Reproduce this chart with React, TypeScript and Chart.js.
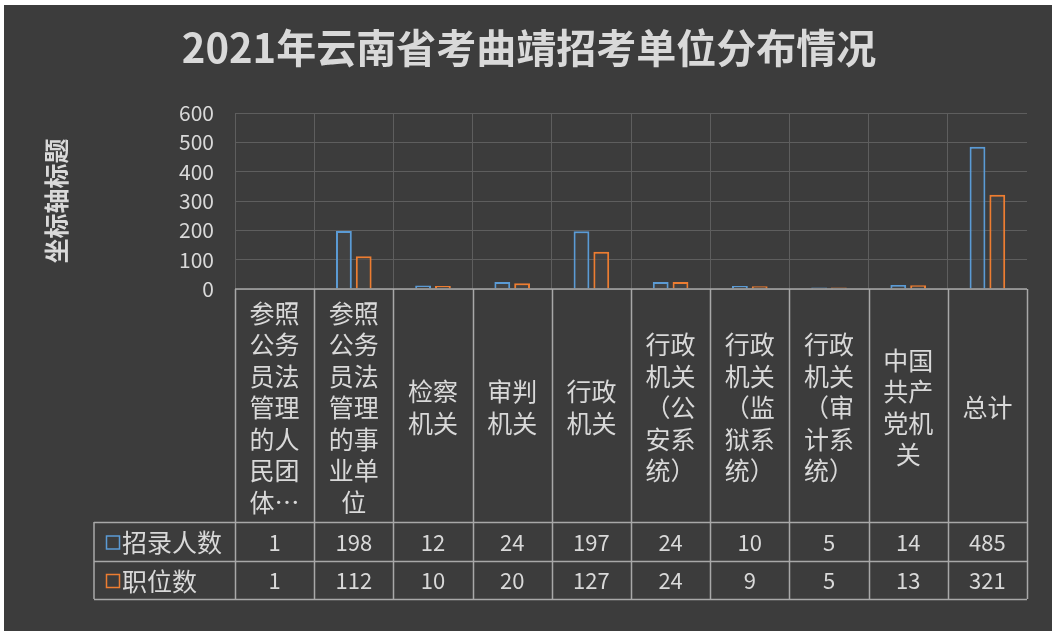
import { useEffect, useRef } from 'react';
import { Chart, registerables } from 'chart.js';

Chart.register(...registerables);

const TITLE = '2021年云南省考曲靖招考单位分布情况';
const Y_AXIS_TITLE = '坐标轴标题';
const categories = [
  '参照公务员法管理的人民团体和群众团体',
  '参照公务员法管理的事业单位',
  '检察机关',
  '审判机关',
  '行政机关',
  '行政机关（公安系统）',
  '行政机关（监狱系统）',
  '行政机关（审计系统）',
  '中国共产党机关',
  '总计',
];
const seriesNames = ['招录人数', '职位数'];
const recruits = [1, 198, 12, 24, 197, 24, 10, 5, 14, 485];
const positions = [1, 112, 10, 20, 127, 24, 9, 5, 13, 321];
const yMin = 0;
const yMax = 600;
const yStep = 100;

const BG = '#3c3c3c';
const TEXT = '#d9d9d9';
const GRID = '#5e5e5e';
const TABLE_LINE = '#a8a8a8';
const BLUE = '#5b9bd5';
const ORANGE = '#ed7d31';
const CJK = '"Noto Sans CJK SC", "Noto Sans", sans-serif';

function wrapLabel(s: string): string[] {
  const chars = Array.from(s);
  const lines: string[] = [];
  for (let i = 0; i < chars.length; i += 2) lines.push(chars.slice(i, i + 2).join(''));
  if (lines.length > 7) {
    const kept = lines.slice(0, 7);
    kept[6] = Array.from(kept[6])[0] + '…';
    return kept;
  }
  return lines;
}

const decorPlugin = {
  id: 'decor',
  beforeDraw(chart: any) {
    const { ctx, width, height } = chart;
    ctx.save();
    ctx.fillStyle = '#ffffff';
    ctx.fillRect(0, 0, width, height);
    ctx.fillStyle = BG;
    ctx.fillRect(4, 5, width - 4, height - 5);
    ctx.restore();
  },
  afterDraw(chart: any) {
    const { ctx, chartArea } = chart;
    const xs = chart.scales.x;
    const n = categories.length;
    const colW = (chartArea.right - chartArea.left) / n;
    const top = chartArea.bottom;
    const labelBottom = 522;
    const row1Bottom = 561;
    const row2Bottom = 599;
    const legendLeft = 94;
    ctx.save();
    // title
    ctx.fillStyle = TEXT;
    ctx.textAlign = 'center';
    ctx.textBaseline = 'middle';
    ctx.font = `bold 40px ${CJK}`;
    ctx.fillText(TITLE, 529, 48);
    // y axis title
    ctx.save();
    ctx.translate(56, 201);
    ctx.rotate(-Math.PI / 2);
    ctx.font = `bold 25px ${CJK}`;
    ctx.fillText(Y_AXIS_TITLE, 0, 0);
    ctx.restore();

    // table lines
    ctx.strokeStyle = TABLE_LINE;
    ctx.lineWidth = 1.5;
    ctx.beginPath();
    for (let i = 0; i <= n; i++) {
      const x = Math.round(chartArea.left + i * colW) + 0.5;
      ctx.moveTo(x, top);
      ctx.lineTo(x, row2Bottom);
    }
    ctx.moveTo(legendLeft, labelBottom);
    ctx.lineTo(legendLeft, row2Bottom);
    ctx.moveTo(chartArea.left, top);
    ctx.lineTo(chartArea.right, top);
    [labelBottom, row1Bottom, row2Bottom].forEach((y) => {
      ctx.moveTo(legendLeft, y + 0.5);
      ctx.lineTo(chartArea.right, y + 0.5);
    });
    ctx.stroke();

    // category labels
    ctx.fillStyle = TEXT;
    ctx.font = `25px ${CJK}`;
    const lh = 31.5;
    const midY = (top + labelBottom) / 2 + 2;
    categories.forEach((c, i) => {
      const cx = xs.getPixelForValue(i);
      const lines = wrapLabel(c);
      const startY = midY - ((lines.length - 1) * lh) / 2;
      lines.forEach((ln, k) => {
        ctx.fillText(ln, cx, startY + k * lh);
      });
    });

    // data rows
    const rows = [recruits, positions];
    const colors = [BLUE, ORANGE];
    const rowMids = [(labelBottom + row1Bottom) / 2 + 1, (row1Bottom + row2Bottom) / 2 + 1];
    rows.forEach((vals, r) => {
      ctx.font = `22px ${CJK}`;
      ctx.textAlign = 'center';
      ctx.fillStyle = TEXT;
      vals.forEach((v, i) => {
        ctx.fillText(String(v), xs.getPixelForValue(i), rowMids[r]);
      });
      // legend key
      ctx.strokeStyle = colors[r];
      ctx.lineWidth = 1.5;
      ctx.strokeRect(106.5, rowMids[r] - 6.5, 13, 13);
      ctx.textAlign = 'left';
      ctx.font = `25px ${CJK}`;
      ctx.fillStyle = TEXT;
      ctx.fillText(seriesNames[r], 122, rowMids[r]);
    });
    ctx.restore();
  },
};

export default function App() {
  const ref = useRef<HTMLCanvasElement | null>(null);
  useEffect(() => {
    document.body.style.margin = '0';
    const canvas = ref.current;
    if (!canvas) return;
    const chart = new Chart(canvas, {
      type: 'bar',
      data: {
        labels: categories,
        datasets: [
          {
            label: seriesNames[0],
            data: recruits,
            borderColor: BLUE,
            backgroundColor: 'rgba(70,70,70,0.6)',
            borderWidth: 2,
            categoryPercentage: 0.5,
            barPercentage: 0.8,
          },
          {
            label: seriesNames[1],
            data: positions,
            borderColor: ORANGE,
            backgroundColor: 'rgba(70,70,70,0.6)',
            borderWidth: 2,
            categoryPercentage: 0.5,
            barPercentage: 0.8,
          },
        ],
      },
      options: {
        animation: false,
        responsive: false,
        maintainAspectRatio: false,
        layout: { padding: { left: 0, right: 25, top: 113, bottom: 342 } },
        plugins: {
          legend: { display: false },
          title: { display: false },
          tooltip: { enabled: false },
        },
        scales: {
          x: {
            offset: true,
            ticks: { display: false },
            grid: {
              offset: true,
              drawTicks: false,
              color: (c: any) => (c.type === 'tick' ? GRID : 'rgba(0,0,0,0)'),
              lineWidth: 1,
            },
            border: { display: false },
            afterFit: (s: any) => {
              s.height = 0;
            },
          },
          y: {
            min: yMin,
            max: yMax,
            ticks: {
              stepSize: yStep,
              color: TEXT,
              padding: 21,
              font: { family: CJK, size: 21 },
            },
            grid: { color: GRID, drawTicks: false, lineWidth: 1 },
            border: { display: false },
            afterFit: (s: any) => {
              s.width = 235;
            },
          },
        },
      },
      plugins: [decorPlugin],
    });
    return () => chart.destroy();
  }, []);
  return <canvas ref={ref} width={1052} height={631} style={{ display: 'block' }} />;
}
